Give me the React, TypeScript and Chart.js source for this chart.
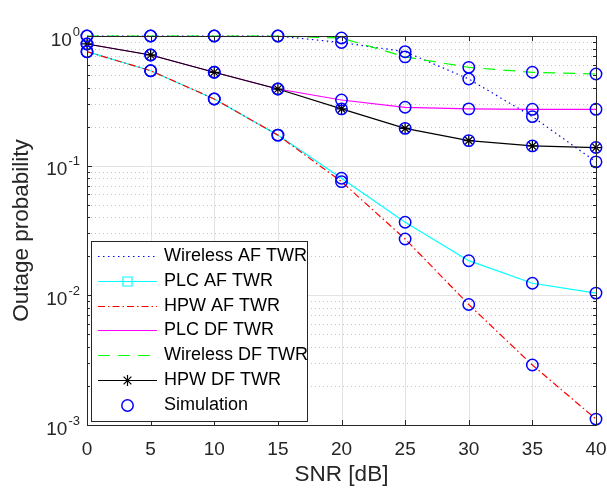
import React, { useEffect, useRef } from 'react';
import { Chart, registerables } from 'chart.js';

Chart.register(...registerables);

// ---------- data ----------
const snr = [0, 5, 10, 15, 20, 25, 30, 35, 40];
const wirelessAF = [1, 1, 1, 1, 0.89, 0.757, 0.466, 0.239, 0.107];
const plcAF = [0.757, 0.54, 0.327, 0.172, 0.08, 0.0366, 0.0185, 0.0124, 0.0104];
const hpwAF = [0.757, 0.54, 0.327, 0.172, 0.0753, 0.0272, 0.0085, 0.0029, 0.00111];
const plcDF = [0.868, 0.714, 0.525, 0.39, 0.321, 0.282, 0.274, 0.272, 0.272];
const wirelessDF = [1, 1, 1, 1, 0.965, 0.69, 0.573, 0.525, 0.509];
const hpwDF = [0.868, 0.714, 0.525, 0.39, 0.274, 0.194, 0.156, 0.142, 0.138];
const simulationSeries = [wirelessAF, plcAF, hpwAF, plcDF, wirelessDF, hpwDF];

const xTicks = [0, 5, 10, 15, 20, 25, 30, 35, 40];
const yExponents = [0, -1, -2, -3];
const minorMultipliers = [2, 3, 4, 5, 6, 7, 8, 9];

const FONT = '"Liberation Sans", Arial, Helvetica, sans-serif';
const AXIS_COLOR = '#262626';

type Marker = 'none' | 'rect' | 'star' | 'circle';
interface SeriesDef {
  label: string;
  data: number[];
  color: string;
  dash: number[];
  marker: Marker;
  showPlotMarker: boolean;
  order: number;
}

const series: SeriesDef[] = [
  { label: 'Wireless AF TWR', data: wirelessAF, color: '#0000ff', dash: [1.5, 3.5], marker: 'none', showPlotMarker: false, order: 6 },
  { label: 'PLC AF TWR', data: plcAF, color: '#00ffff', dash: [], marker: 'rect', showPlotMarker: false, order: 5 },
  { label: 'HPW AF TWR', data: hpwAF, color: '#ff0000', dash: [7, 3, 1.5, 3], marker: 'none', showPlotMarker: false, order: 4 },
  { label: 'PLC DF TWR', data: plcDF, color: '#ff00ff', dash: [], marker: 'none', showPlotMarker: false, order: 3 },
  { label: 'Wireless DF TWR', data: wirelessDF, color: '#00ff00', dash: [12, 8], marker: 'none', showPlotMarker: false, order: 2 },
  { label: 'HPW DF TWR', data: hpwDF, color: '#000000', dash: [], marker: 'star', showPlotMarker: true, order: 1 },
];

function drawMarker(ctx: CanvasRenderingContext2D, kind: Marker, x: number, y: number, color: string) {
  ctx.save();
  ctx.setLineDash([]);
  ctx.strokeStyle = color;
  ctx.lineWidth = kind === 'circle' ? 1.5 : 1.2;
  ctx.beginPath();
  if (kind === 'rect') {
    ctx.rect(x - 4.5, y - 4.5, 9, 9);
  } else if (kind === 'circle') {
    ctx.arc(x, y, 5.7, 0, Math.PI * 2);
  } else if (kind === 'star') {
    const r = 5.5;
    const d = r * Math.SQRT1_2;
    ctx.moveTo(x - r, y); ctx.lineTo(x + r, y);
    ctx.moveTo(x, y - r); ctx.lineTo(x, y + r);
    ctx.moveTo(x - d, y - d); ctx.lineTo(x + d, y + d);
    ctx.moveTo(x - d, y + d); ctx.lineTo(x + d, y - d);
  }
  ctx.stroke();
  ctx.restore();
}

const matlabPlugin = {
  id: 'matlabAxes',
  beforeDatasetsDraw(chart: any) {
    const { ctx, chartArea } = chart;
    const xs = chart.scales.x;
    const ys = chart.scales.y;
    const { left, right, top, bottom } = chartArea;
    ctx.save();
    ctx.lineWidth = 1;
    // vertical grid
    ctx.strokeStyle = '#e3e3e3';
    xTicks.forEach((t) => {
      const px = Math.round(xs.getPixelForValue(t)) + 0.5;
      ctx.beginPath(); ctx.moveTo(px, top); ctx.lineTo(px, bottom); ctx.stroke();
    });
    // minor horizontal grid (dotted)
    ctx.strokeStyle = '#c4c4c4';
    ctx.setLineDash([1, 3]);
    yExponents.forEach((e) => {
      if (e === 0) return;
      minorMultipliers.forEach((m) => {
        const py = Math.round(ys.getPixelForValue(m * Math.pow(10, e))) + 0.5;
        ctx.beginPath(); ctx.moveTo(left, py); ctx.lineTo(right, py); ctx.stroke();
      });
    });
    // major horizontal grid
    ctx.setLineDash([]);
    ctx.strokeStyle = '#e3e3e3';
    yExponents.forEach((e) => {
      const py = Math.round(ys.getPixelForValue(Math.pow(10, e))) + 0.5;
      ctx.beginPath(); ctx.moveTo(left, py); ctx.lineTo(right, py); ctx.stroke();
    });
    ctx.restore();
  },
  afterDatasetsDraw(chart: any) {
    const { ctx, chartArea } = chart;
    const xs = chart.scales.x;
    const ys = chart.scales.y;
    const { left, right, top, bottom } = chartArea;
    ctx.save();
    ctx.strokeStyle = AXIS_COLOR;
    ctx.lineWidth = 1;
    ctx.setLineDash([]);
    // box
    ctx.strokeRect(Math.round(left) + 0.5, Math.round(top) + 0.5, Math.round(right - left), Math.round(bottom - top));
    // x ticks (inward)
    xTicks.forEach((t) => {
      const px = Math.round(xs.getPixelForValue(t)) + 0.5;
      ctx.beginPath();
      ctx.moveTo(px, bottom); ctx.lineTo(px, bottom - 5);
      ctx.moveTo(px, top); ctx.lineTo(px, top + 5);
      ctx.stroke();
    });
    // y ticks major + minor
    yExponents.forEach((e) => {
      const py = Math.round(ys.getPixelForValue(Math.pow(10, e))) + 0.5;
      ctx.beginPath();
      ctx.moveTo(left, py); ctx.lineTo(left + 5, py);
      ctx.moveTo(right, py); ctx.lineTo(right - 5, py);
      ctx.stroke();
      if (e !== 0) {
        minorMultipliers.forEach((m) => {
          const pm = Math.round(ys.getPixelForValue(m * Math.pow(10, e))) + 0.5;
          ctx.beginPath();
          ctx.moveTo(left, pm); ctx.lineTo(left + 3, pm);
          ctx.moveTo(right, pm); ctx.lineTo(right - 3, pm);
          ctx.stroke();
        });
      }
    });
    // y tick labels 10^n
    ctx.fillStyle = AXIS_COLOR;
    ctx.textBaseline = 'middle';
    yExponents.forEach((e) => {
      const py = ys.getPixelForValue(Math.pow(10, e));
      const expText = String(e);
      ctx.font = `13px ${FONT}`;
      const ew = ctx.measureText(expText).width;
      ctx.textAlign = 'right';
      const rightEdge = left - 7;
      ctx.fillText(expText, rightEdge, py - 4);
      ctx.font = `19px ${FONT}`;
      ctx.fillText('10', rightEdge - ew - 1, py + 4.5);
    });
    ctx.restore();
  },
  afterDraw(chart: any) {
    const { ctx } = chart;
    const L = 91, T = 241, R = 307, B = 421;
    ctx.save();
    ctx.fillStyle = '#ffffff';
    ctx.fillRect(L, T, R - L, B - T);
    ctx.strokeStyle = AXIS_COLOR;
    ctx.lineWidth = 1;
    ctx.strokeRect(L + 0.5, T + 0.5, R - L, B - T);
    const entries = [
      ...series.map((s) => ({ label: s.label, color: s.color, dash: s.dash, line: true, marker: s.marker })),
      { label: 'Simulation', color: '#0000ff', dash: [] as number[], line: false, marker: 'circle' as Marker },
    ];
    entries.forEach((en, i) => {
      const y = Math.round(256 + i * 24.83) + 0.5;
      if (en.line) {
        ctx.save();
        ctx.strokeStyle = en.color;
        ctx.lineWidth = 1.2;
        ctx.setLineDash(en.dash);
        ctx.beginPath(); ctx.moveTo(98, y); ctx.lineTo(157, y); ctx.stroke();
        ctx.restore();
      }
      if (en.marker !== 'none') drawMarker(ctx, en.marker, 127.5, y, en.color);
      ctx.fillStyle = '#000000';
      ctx.font = `18px ${FONT}`;
      ctx.textAlign = 'left';
      ctx.textBaseline = 'middle';
      ctx.fillText(en.label, 164, y);
    });
    ctx.restore();
  },
};

export default function App() {
  const ref = useRef<HTMLCanvasElement>(null);
  useEffect(() => {
    if (!ref.current) return;
    const lineSets = series.map((s) => ({
      label: s.label,
      data: snr.map((x, i) => ({ x, y: s.data[i] })),
      borderColor: s.color,
      backgroundColor: s.color,
      borderWidth: 1.2,
      borderDash: s.dash,
      pointStyle: s.marker === 'star' ? 'star' : 'circle',
      pointRadius: s.showPlotMarker ? 5.5 : 0,
      pointBorderWidth: 1.2,
      pointBorderColor: s.color,
      showLine: true,
      fill: false,
      tension: 0,
      order: s.order,
      clip: false as any,
    }));
    const simPoints: { x: number; y: number }[] = [];
    simulationSeries.forEach((arr) => arr.forEach((v, i) => simPoints.push({ x: snr[i], y: v })));
    const simSet = {
      label: 'Simulation',
      data: simPoints,
      borderColor: '#0000ff',
      backgroundColor: 'rgba(0,0,0,0)',
      showLine: false,
      pointStyle: 'circle',
      pointRadius: 5.7,
      pointBorderWidth: 1.5,
      pointBorderColor: '#0000ff',
      pointBackgroundColor: 'rgba(0,0,0,0)',
      order: 0,
      clip: false as any,
    };
    const chart = new Chart(ref.current, {
      type: 'scatter',
      data: { datasets: [...lineSets, simSet] as any },
      options: {
        responsive: false,
        animation: false,
        devicePixelRatio: 1,
        layout: { padding: { top: 36, right: 11, left: 0, bottom: 0 } },
        plugins: { legend: { display: false }, tooltip: { enabled: false } },
        scales: {
          x: {
            type: 'linear',
            min: 0,
            max: 40,
            grid: { display: false, drawTicks: false },
            border: { display: false },
            ticks: {
              stepSize: 5,
              color: AXIS_COLOR,
              font: { family: FONT, size: 19 },
              padding: 13,
              maxRotation: 0,
            },
            title: {
              display: true,
              text: 'SNR [dB]',
              color: AXIS_COLOR,
              font: { family: FONT, size: 22.5, lineHeight: 1 },
              padding: { top: 0, bottom: 2 },
            },
            afterFit: (scale: any) => {
              scale.height = 63;
              scale.paddingLeft = 0;
              scale.paddingRight = 0;
            },
          },
          y: {
            type: 'logarithmic',
            min: 0.001,
            max: 1,
            grid: { display: false, drawTicks: false },
            border: { display: false },
            ticks: { display: false },
            title: {
              display: true,
              text: 'Outage probability',
              color: AXIS_COLOR,
              font: { family: FONT, size: 22.5, lineHeight: 1 },
              padding: { top: 11, bottom: 0 },
            },
            afterFit: (scale: any) => {
              scale.width = 87;
              scale.paddingTop = 0;
              scale.paddingBottom = 0;
            },
          },
        },
      },
      plugins: [matlabPlugin],
    });
    return () => chart.destroy();
  }, []);
  return (
    <div style={{ position: 'absolute', left: 0, top: 0, width: 607, height: 488, background: '#fff' }}>
      <canvas ref={ref} width={607} height={488} />
    </div>
  );
}
